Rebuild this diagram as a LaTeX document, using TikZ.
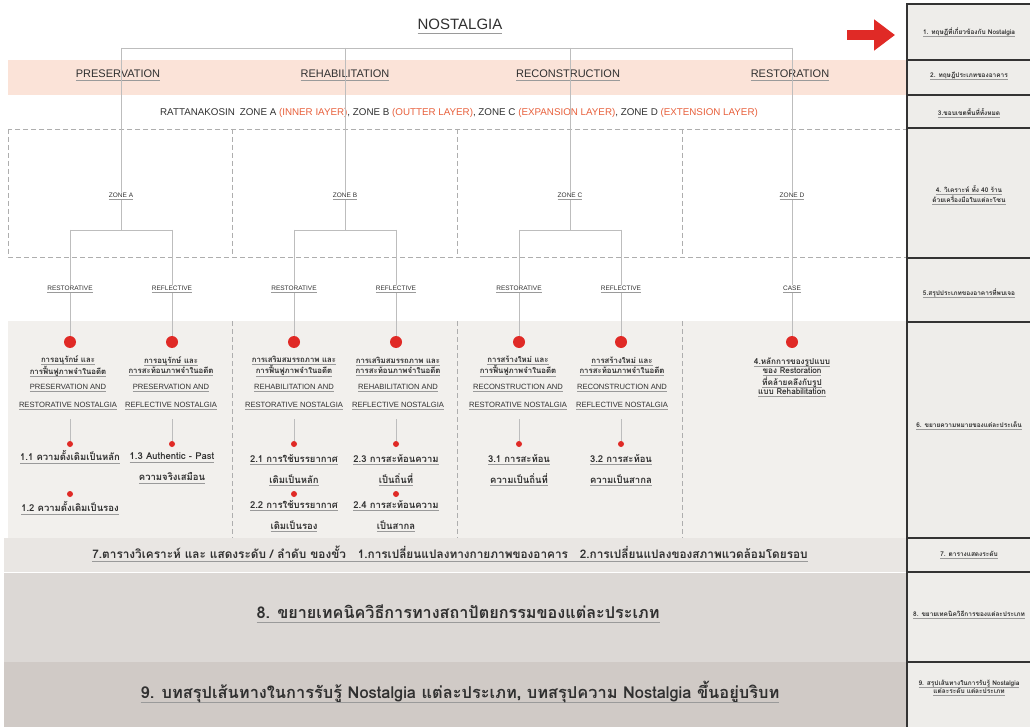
\documentclass[tikz,border=0pt]{standalone}
\usepackage{fontspec}
\setmainfont{Liberation Sans}
\newfontfamily\thaifont[Script=Thai]{Loma}
\usetikzlibrary{arrows.meta}

\definecolor{txt}{HTML}{303030}
\definecolor{peach}{HTML}{FBE3D8}
\definecolor{panel}{HTML}{F2F0ED}
\definecolor{bandseven}{HTML}{E9E6E3}
\definecolor{bandeight}{HTML}{DCD8D5}
\definecolor{bandnine}{HTML}{D0CAC6}
\definecolor{sidefill}{HTML}{EEEDEA}
\definecolor{sideline}{HTML}{333333}
\definecolor{treeline}{HTML}{BDBDBD}
\definecolor{dashgray}{HTML}{AEAEAE}
\definecolor{ulgray}{HTML}{9A9A9A}
\definecolor{dotred}{HTML}{E02A26}
\definecolor{layerred}{HTML}{E8603C}

% thin gray underline under a line of text
\newcommand{\undl}[1]{\setbox0\hbox{#1}\leavevmode\rlap{\textcolor{ulgray}{\rule[-0.3em]{\wd0}{0.07em}}}\box0}

\begin{document}
\begin{tikzpicture}[x=1pt,y=-1pt,
  every node/.style={text=txt,inner sep=1pt},
  tree/.style={draw=treeline,line width=0.8pt},
  cellline/.style={draw=dashgray,line width=0.7pt,dash pattern=on 5pt off 3pt},
  bigdot/.style={circle,fill=dotred,minimum size=12pt,inner sep=0pt},
  smalldot/.style={circle,fill=dotred,minimum size=6pt,inner sep=0pt},
  title/.style={font=\fontsize{15}{17}\selectfont},
  cat/.style={font=\fontsize{11}{13}\selectfont},
  zonelbl/.style={font=\fontsize{6.5}{8}\selectfont},
  thsmall/.style={font=\thaifont\bfseries\fontsize{7.8}{8.2}\selectfont,align=center},
  ensmall/.style={font=\fontsize{7.6}{9}\selectfont},
  item/.style={font=\thaifont\bfseries\fontsize{9.5}{21}\selectfont,align=center},
  bandtext/.style={font=\thaifont\bfseries\fontsize{#1}{#1}\selectfont},
  sidetext/.style={font=\thaifont\bfseries\fontsize{6.5}{7}\selectfont,align=center},
  sidebox/.style={draw=sideline,line width=1.3pt,fill=sidefill}
]
\useasboundingbox (0,0) rectangle (1030,727);
\fill[white] (0,0) rectangle (1030,727);

% background bands
\fill[peach] (8,60) rectangle (907,95);
\fill[panel] (8,321) rectangle (907,538);
\fill[bandseven] (4,538) rectangle (907,572);
\fill[bandeight] (4,573) rectangle (907,662);
\fill[bandnine] (4,662) rectangle (907,727);

% dashed zone cells
\draw[cellline] (8,129) rectangle (906,257);
\foreach \x in {232,457,682} {
  \draw[cellline] (\x,129) -- (\x,257);
  \draw[cellline] (\x,321) -- (\x,538);
}

% step column on the right
\foreach \t/\b in {4/60,60/95,95/128,128/258,258/322,322/538,538/572,572/662,662/732}
  \draw[sidebox] (907,\t) rectangle (1036,\b);

% red pointer
\coordinate (arrS) at (847,35);
\coordinate (arrE) at (895,35);
\draw[dotred,line width=10pt,-{Triangle[length=21pt,width=30pt]}] (arrS) -- (arrE);

% title and top bar
\node[title] (nost) at (460,27) {\undl{NOSTALGIA}};
\coordinate (tA) at (121,48);
\coordinate (tB) at (345,48);
\coordinate (tC) at (570,48);
\coordinate (tD) at (792,48);
\draw[tree] (tA) -- (tD);

% four approaches
\node[cat] (pres) at (118,75) {\undl{PRESERVATION}};
\node[cat] (reha) at (345,75) {\undl{REHABILITATION}};
\node[cat] (reco) at (568,75) {\undl{RECONSTRUCTION}};
\node[cat] (rest) at (790,75) {\undl{RESTORATION}};

\node[font=\fontsize{9.8}{11}\selectfont] (ratt) at (459,113)
  {RATTANAKOSIN\enspace ZONE A \textcolor{layerred}{(INNER IAYER)}, ZONE B \textcolor{layerred}{(OUTTER LAYER)}, ZONE C \textcolor{layerred}{(EXPANSION LAYER)}, ZONE D \textcolor{layerred}{(EXTENSION LAYER)}};

% zones
\foreach \z/\x in {A/121,B/345,C/570,D/792} {
  \node[zonelbl] (zone\z) at (\x,196) {\undl{ZONE \z}};
  \draw[tree] (t\z) -- (zone\z);
}
\foreach \z/\x in {A/121,B/345,C/570} {
  \coordinate (br\z) at (\x,230);
  \coordinate (br\z1) at (\x-51,230);
  \coordinate (br\z2) at (\x+51,230);
  \draw[tree] (zone\z) -- (br\z);
  \draw[tree] (br\z1) -- (br\z2);
}

% kinds and big dots
\foreach \c/\x/\k in {A1/70/RESTORATIVE,A2/172/REFLECTIVE,B1/294/RESTORATIVE,B2/396/REFLECTIVE,C1/519/RESTORATIVE,C2/621/REFLECTIVE,D/792/CASE} {
  \node[zonelbl] (kind\c) at (\x,289) {\undl{\k}};
  \node[bigdot] (dot\c) at (\x,342) {};
  \draw[tree] (kind\c) -- (dot\c);
}
\foreach \c in {A1,A2,B1,B2,C1,C2}
  \draw[tree] (br\c) -- (kind\c);
\draw[tree] (zoneD) -- (kindD);

% meanings under each dot
\foreach \c/\x/\ta/\tb/\ea/\eb in {
  A1/68/การอนุรักษ์ และ/การฟื้นฟูภาพจำในอดีต/PRESERVATION AND/RESTORATIVE NOSTALGIA,
  A2/171/การอนุรักษ์ และ/การสะท้อนภาพจำในอดีต/PRESERVATION AND/REFLECTIVE NOSTALGIA,
  B1/294/การเสริมสมรรถภาพ และ/การฟื้นฟูภาพจำในอดีต/REHABILITATION AND/RESTORATIVE NOSTALGIA,
  B2/398/การเสริมสมรรถภาพ และ/การสะท้อนภาพจำในอดีต/REHABILITATION AND/REFLECTIVE NOSTALGIA,
  C1/518/การสร้างใหม่ และ/การฟื้นฟูภาพจำในอดีต/RECONSTRUCTION AND/RESTORATIVE NOSTALGIA,
  C2/622/การสร้างใหม่ และ/การสะท้อนภาพจำในอดีต/RECONSTRUCTION AND/REFLECTIVE NOSTALGIA} {
  \node[thsmall] (th\c) at (\x,366) {\undl{\ta}\\\undl{\tb}};
  \node[ensmall] (ena\c) at (\x,388) {\undl{\ea}};
  \node[ensmall] (enb\c) at (\x,406) {\undl{\eb}};
}
\foreach \c/\x in {A1/70,A2/172,B1/294,B2/396,C1/519,C2/621} {
  \coordinate (stem\c) at (\x,419);
  \node[smalldot] (sd\c) at (\x,444) {};
  \draw[tree] (stem\c) -- (sd\c);
}

% sub items
\node[item] (itA1) at (70,457) {\undl{1.1 ความดั้งเดิมเป็นหลัก}};
\node[smalldot] (sdxA1) at (70,494) {};
\node[item] (itxA1) at (70,508) {\undl{1.2 ความดั้งเดิมเป็นรอง}};
\node[item] (itA2) at (172,468) {\undl{1.3 Authentic - Past}\\\undl{ความจริงเสมือน}};
\node[item] (itB1) at (294,470) {\undl{2.1 การใช้บรรยากาศ}\\\undl{เดิมเป็นหลัก}};
\node[smalldot] (sdxB1) at (294,494) {};
\node[item] (itxB1) at (294,516) {\undl{2.2 การใช้บรรยากาศ}\\\undl{เดิมเป็นรอง}};
\node[item] (itB2) at (396,470) {\undl{2.3 การสะท้อนความ}\\\undl{เป็นถิ่นที่}};
\node[smalldot] (sdxB2) at (396,494) {};
\node[item] (itxB2) at (396,516) {\undl{2.4 การสะท้อนความ}\\\undl{เป็นสากล}};
\node[item] (itC1) at (519,470) {\undl{3.1 การสะท้อน}\\\undl{ความเป็นถิ่นที่}};
\node[item] (itC2) at (621,470) {\undl{3.2 การสะท้อน}\\\undl{ความเป็นสากล}};
\node[thsmall,font=\thaifont\bfseries\fontsize{8.2}{9}\selectfont] (thD) at (792,377)
  {\undl{4.หลักการของรูปแบบ}\\\undl{ของ Restoration}\\\undl{ที่คล้ายคลึงกับรูป}\\\undl{แบบ Rehabilitation}};

% bottom bands
\node[bandtext=11.8] (bseven) at (450,554)
  {\undl{7.ตารางวิเคราะห์ และ แสดงระดับ / ลำดับ ของขั้ว\quad 1.การเปลี่ยนแปลงทางกายภาพของอาคาร\quad 2.การเปลี่ยนแปลงของสภาพแวดล้อมโดยรอบ}};
\node[bandtext=16.2] (beight) at (458,614)
  {\undl{8. ขยายเทคนิควิธีการทางสถาปัตยกรรมของแต่ละประเภท}};
\node[bandtext=16.4] (bnine) at (460,692)
  {\undl{9. บทสรุปเส้นทางในการรับรู้ Nostalgia แต่ละประเภท, บทสรุปความ Nostalgia ขึ้นอยู่บริบท}};

% step labels
\node[sidetext] (sone) at (969,32) {\undl{1. ทฤษฎีที่เกี่ยวข้องกับ Nostalgia}};
\node[sidetext] (stwo) at (969,76) {\undl{2. ทฤษฎีประเภทของอาคาร}};
\node[sidetext] (sthree) at (969,113) {\undl{3.ขอบเขตพื้นที่ทั้งหมด}};
\node[sidetext] (sfour) at (969,195) {\undl{4. วิเคราะห์ ทั้ง 40 ร้าน}\\\undl{ด้วยเครื่องมือในแต่ละโซน}};
\node[sidetext] (sfive) at (969,293) {\undl{5.สรุปประเภทของอาคารที่พบเจอ}};
\node[sidetext] (ssix) at (969,425) {\undl{6. ขยายความหมายของแต่ละประเด็น}};
\node[sidetext] (sseven) at (969,555) {\undl{7. ตารางแสดงระดับ}};
\node[sidetext] (seight) at (969,615) {\undl{8. ขยายเทคนิควิธีการของแต่ละประเภท}};
\node[sidetext] (snine) at (969,688) {\undl{9. สรุปเส้นทางในการรับรู้ Nostalgia}\\\undl{แต่ละระดับ แต่ละประเภท}};
\end{tikzpicture}
\end{document}
